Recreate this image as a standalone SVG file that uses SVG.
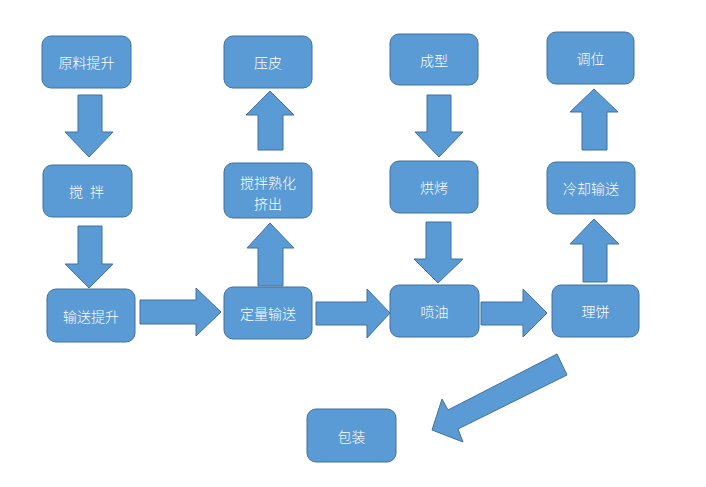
<svg xmlns="http://www.w3.org/2000/svg" width="706" height="487" viewBox="0 0 706 487">
<style>
.box{fill:#5B9BD5;stroke:#41719C;stroke-width:1}
.arr{fill:#5B9BD5;stroke:#41719C;stroke-width:1;stroke-linejoin:miter}
.t{fill:#ffffff;font-family:"Microsoft YaHei","Noto Sans CJK SC",sans-serif;font-size:14px;font-weight:300;text-anchor:middle;dominant-baseline:central}
</style>
<rect width="706" height="487" fill="#ffffff"/>
<g id="connectors">
<polygon class="arr" points="78,95 102,95 102,132 113,132 89,157 65,132 78,132"/>
<polygon class="arr" points="78,226 102,226 102,264 113,264 89,288 65,264 78,264"/>
<polygon class="arr" points="140,300 196,300 196,288 221,312 196,336 196,324 140,324"/>
<polygon class="arr" points="258,286 258,248 247,248 270,223 294,248 283,248 283,286"/>
<polygon class="arr" points="258,150 258,115 246,115 270,91 294,115 283,115 283,150"/>
<polygon class="arr" points="316,302 367,302 367,289 390,313 367,338 367,325 316,325"/>
<polygon class="arr" points="427,95 451,95 451,132 463,132 439,157 415,132 427,132"/>
<polygon class="arr" points="426,222 451,222 451,259 463,259 438,283 414,259 426,259"/>
<polygon class="arr" points="481,302 523,302 523,289 547,313 523,337 523,325 481,325"/>
<polygon class="arr" points="583,282 583,244 570,244 594,219 619,244 607,244 607,282"/>
<polygon class="arr" points="582,150 582,112 570,112 594,89 618,112 607,112 607,150"/>
<polygon class="arr" points="557,354 567,375 458,429 463,442 432,430 442,399 448,410"/>
</g>
<g id="n1"><rect class="box" x="42" y="36" width="89" height="52" rx="9"/><text class="t" x="86.5" y="62">原料提升</text></g>
<g id="n2"><rect class="box" x="43" y="165" width="89" height="52" rx="9"/><text class="t" x="87.5" y="191" xml:space="preserve"><tspan x="76">搅</tspan><tspan x="97">拌</tspan></text></g>
<g id="n3"><rect class="box" x="47" y="289" width="88" height="53" rx="9"/><text class="t" x="91" y="315.5">输送提升</text></g>
<g id="n4"><rect class="box" x="224" y="287" width="88" height="52" rx="9"/><text class="t" x="268" y="313">定量输送</text></g>
<g id="n5"><rect class="box" x="224" y="163" width="88" height="55" rx="9"/><text class="t" x="268" y="182">搅拌熟化</text><text class="t" x="268" y="203">挤出</text></g>
<g id="n6"><rect class="box" x="224" y="36" width="88" height="52" rx="9"/><text class="t" x="268" y="62">压皮</text></g>
<g id="n7"><rect class="box" x="390" y="34" width="88" height="51" rx="9"/><text class="t" x="434" y="59.5">成型</text></g>
<g id="n8"><rect class="box" x="390" y="161" width="88" height="52" rx="9"/><text class="t" x="434" y="187">烘烤</text></g>
<g id="n9"><rect class="box" x="390" y="285" width="89" height="52" rx="9"/><text class="t" x="434.5" y="311">喷油</text></g>
<g id="n10"><rect class="box" x="552" y="285" width="87" height="52" rx="9"/><text class="t" x="595.5" y="311">理饼</text></g>
<g id="n11"><rect class="box" x="547" y="162" width="88" height="52" rx="9"/><text class="t" x="591" y="188">冷却输送</text></g>
<g id="n12"><rect class="box" x="547" y="32" width="87" height="52" rx="9"/><text class="t" x="590.5" y="58">调位</text></g>
<g id="n13"><rect class="box" x="307" y="409" width="89" height="53" rx="9"/><text class="t" x="351.5" y="435.5">包装</text></g>
</svg>
